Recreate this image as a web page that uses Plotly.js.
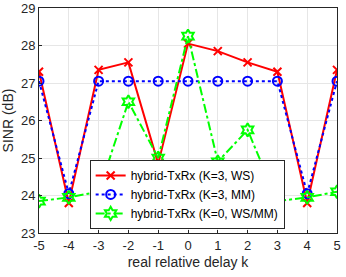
<!DOCTYPE html>
<html><head><meta charset="utf-8">
<script src="https://cdn.plot.ly/plotly-3.0.1.min.js"></script>
<style>body{margin:0;padding:0;background:#fff}#c{width:346px;height:277px}</style>
</head><body><div id="c"></div>
<script>
var delays = [-5,-4,-3,-2,-1,0,1,2,3,4,5];
var sinrWS = [27.3,23.8,27.35,27.55,24.85,28.05,27.85,27.55,27.3,23.8,27.35];
var sinrMM = [27.05,24.05,27.05,27.05,27.05,27.05,27.05,27.05,27.05,24.05,27.05];
var sinrK0 = [23.85,23.95,24.1,26.5,25.0,28.25,24.9,25.75,23.85,23.95,24.1];
var names = ['hybrid-TxRx (K=3, WS)','hybrid-TxRx (K=3, MM)','hybrid-TxRx (K=0, WS/MM)'];
var traces = [
 {x:delays,y:sinrWS,name:names[0],mode:'lines+markers',line:{color:'#ff0000',width:2},marker:{symbol:'x-thin-open',size:8,line:{color:'#ff0000',width:2}}},
 {x:delays,y:sinrMM,name:names[1],mode:'lines+markers',line:{color:'#0000ff',width:2,dash:'dot'},marker:{symbol:'circle-open',size:9,color:'#0000ff',line:{color:'#0000ff',width:2}}},
 {x:delays,y:sinrK0,name:names[2],mode:'lines+markers',line:{color:'#00ff00',width:2,dash:'dashdot'},marker:{symbol:'hexagram-open',size:10,color:'#00ff00',line:{color:'#00ff00',width:2}}}
];
var layout = {
 width:346,height:277,margin:{l:39,r:9,t:8,b:44},
 paper_bgcolor:'#fff',plot_bgcolor:'#fff',
 font:{family:'Liberation Sans, Arial, sans-serif',size:13,color:'#262626'},
 xaxis:{range:[-5,5],tickvals:delays,ticktext:delays.map(String),showgrid:true,gridcolor:'#e6e6e6',zeroline:false,showline:true,linecolor:'#262626',linewidth:1,mirror:true,ticks:'inside',ticklen:3,tickcolor:'#262626',
   tickfont:{size:13},title:{text:'real relative delay k',font:{size:14},standoff:5}},
 yaxis:{range:[23,29],tickvals:[23,24,25,26,27,28,29],showgrid:true,gridcolor:'#e6e6e6',zeroline:false,showline:true,linecolor:'#262626',linewidth:1,mirror:true,ticks:'inside',ticklen:3,tickcolor:'#262626',
   tickfont:{size:13},title:{text:'SINR (dB)',font:{size:14},standoff:5}},
 legend:{x:0.17,y:0.018,xanchor:'left',yanchor:'bottom',bgcolor:'#fff',bordercolor:'#262626',borderwidth:1,font:{size:12,color:'#000'},tracegroupgap:0,itemwidth:30},
 showlegend:true
};
Plotly.newPlot('c',traces,layout,{displayModeBar:false,staticPlot:true});
</script></body></html>
